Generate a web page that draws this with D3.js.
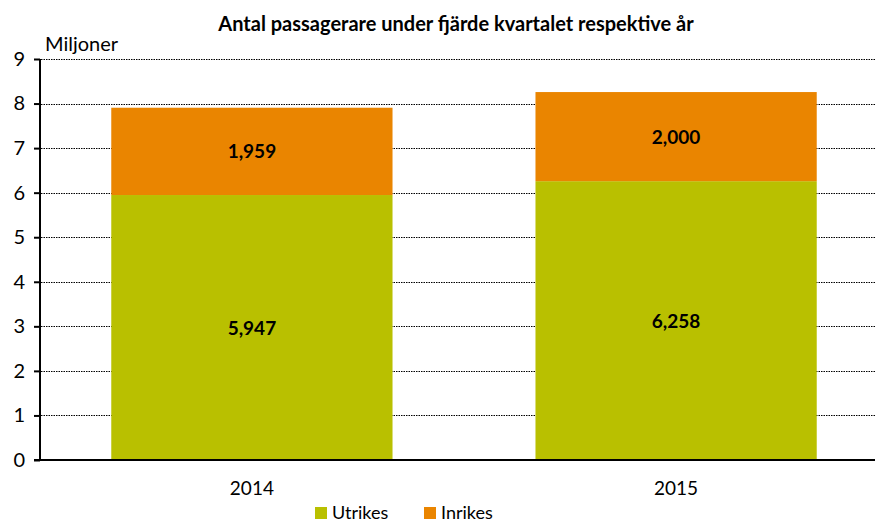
<!DOCTYPE html>
<html>
<head>
<meta charset="utf-8">
<script src="https://d3js.org/d3.v7.min.js"></script>
<style>
  body { margin: 0; background: #fff; font-family: Lato, 'Open Sans', 'Liberation Sans', sans-serif; }
  .grid line { stroke: #000; stroke-dasharray: 1.5,1; stroke-width: 1; }
</style>
</head>
<body>
<div id="chart"></div>
<script>
// data, in millions
var years = ['2014', '2015'];
var utrikes = [5.947, 6.258];
var inrikes = [1.959, 2.000];
var seriesNames = ['Utrikes', 'Inrikes'];
var colors = ['#b9c000', '#ea8500'];
var yTicks = [0, 1, 2, 3, 4, 5, 6, 7, 8, 9];

var W = 875, H = 522;
var svg = d3.select('#chart').append('svg').attr('width', W).attr('height', H);

var x = d3.scaleBand().domain(years).range([40, 888]).paddingInner(0.337).paddingOuter(0.168);
var y = d3.scaleLinear().domain([0, 9]).range([460, 59]);

var rows = years.map(function(yr, i) { return { year: yr, Utrikes: utrikes[i], Inrikes: inrikes[i] }; });
var stacked = d3.stack().keys(seriesNames)(rows);

// gridlines
svg.append('g').attr('class', 'grid')
  .selectAll('line').data(yTicks.slice(1)).enter().append('line')
  .attr('x1', 41).attr('x2', W)
  .attr('y1', function(d) { return Math.round(y(d)) + 0.5; })
  .attr('y2', function(d) { return Math.round(y(d)) + 0.5; });

// bars
svg.selectAll('g.layer').data(stacked).enter().append('g')
  .attr('class', 'layer')
  .attr('fill', function(d, i) { return colors[i]; })
  .selectAll('rect').data(function(d) { return d; }).enter().append('rect')
  .attr('x', function(d) { return x(d.data.year); })
  .attr('width', x.bandwidth())
  .attr('y', function(d) { return y(d[1]); })
  .attr('height', function(d) { return y(d[0]) - y(d[1]); });

// value labels
stacked.forEach(function(layer) {
  svg.selectAll(null).data(layer).enter().append('text')
    .attr('x', function(d) { return x(d.data.year) + x.bandwidth() / 2; })
    .attr('y', function(d) { return (y(d[0]) + y(d[1])) / 2 + 7; })
    .attr('text-anchor', 'middle')
    .style('font-size', '19px').style('font-weight', 'bold')
    .text(function(d) { return d3.format(',.3f')(d[1] - d[0]).replace('.', ','); });
});

// y axis
var yAxis = d3.axisLeft(y).tickValues(yTicks).tickSize(6).tickPadding(9).tickFormat(d3.format('d'));
var gy = svg.append('g').attr('transform', 'translate(40,0)').call(yAxis);
gy.select('.domain').attr('stroke-width', 2).attr('d', 'M0,' + y(9) + 'V' + y(0));
gy.selectAll('.tick line').attr('stroke-width', 2);
gy.selectAll('.tick text').style('font-size', '20px').style('font-family', "Lato, 'Open Sans', sans-serif");

// x axis
var xAxis = d3.axisBottom(x).tickSize(0).tickPadding(22);
var gx = svg.append('g').attr('transform', 'translate(0,460)').call(xAxis);
gx.select('.domain').attr('stroke-width', 2).attr('d', 'M34,0H' + W);
gx.selectAll('.tick text').style('font-size', '19px').style('font-family', "Lato, 'Open Sans', sans-serif");

// title and unit
svg.append('text').attr('x', 456).attr('y', 31).attr('text-anchor', 'middle')
  .style('font-size', '20px').style('font-weight', 'bold')
  .text('Antal passagerare under fjärde kvartalet respektive år');
svg.append('text').attr('x', 45).attr('y', 51).style('font-size', '20px').text('Miljoner');

// legend
var legX = [315, 424];
seriesNames.forEach(function(name, i) {
  svg.append('rect').attr('x', legX[i]).attr('y', 507).attr('width', 12).attr('height', 12).attr('fill', colors[i]);
  svg.append('text').attr('x', legX[i] + 17).attr('y', 519).style('font-size', '18px').text(name);
});
</script>
</body>
</html>
